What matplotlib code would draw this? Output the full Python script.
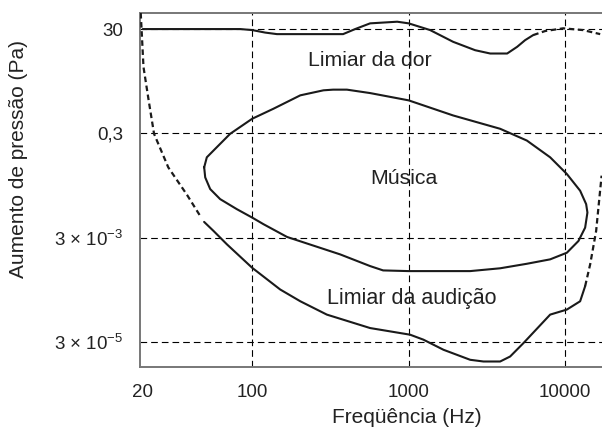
import numpy as np
import matplotlib
matplotlib.use("Agg")
import matplotlib.pyplot as plt

plt.rcParams['font.family'] = ['Liberation Sans', 'DejaVu Sans']
plt.rcParams['mathtext.fontset'] = 'custom'
plt.rcParams['mathtext.rm'] = 'Liberation Sans'
plt.rcParams['mathtext.it'] = 'Liberation Sans:italic'

# Limiar da dor (solid part, then dashed part)
dor_f = [20, 46.5, 84, 100, 121, 144, 381, 455, 567, 845, 1000, 1371, 1923, 2660, 3320, 4260, 4935, 5550, 6250]
dor_p = [30, 30, 30, 28.7, 25.7, 24, 24, 30, 38.6, 41.5, 38.6, 28.7, 17.1, 11.8, 10.2, 10.2, 13.7, 18.4, 23]
dor_f_tr = [6250, 7450, 9710, 13000, 16750]
dor_p_tr = [23, 27.5, 31, 28.7, 24]

# Música (closed contour)
mus_f = [49.35, 51.3, 58.0, 72.3, 100, 136.8, 203, 285.5, 329, 403, 567, 1000, 1923, 3843, 5692,
         8022, 10255, 12470, 13620, 13880, 13420, 12160, 10255, 8022, 5692, 3843, 2472, 1000, 687,
         567, 365, 167, 118.1, 100, 79.8, 62.4, 53.9, 50.1, 49.35]
mus_p = [0.0671, 0.1045, 0.1516, 0.2947, 0.573, 0.892, 1.61, 2.01, 2.07, 2.07, 1.78, 1.29, 0.663, 0.368, 0.219,
         0.1045, 0.0500, 0.0239, 0.01324, 0.00913, 0.00469, 0.0026, 0.00155, 0.001157, 0.000952, 0.00078,
         0.000689, 0.000689, 0.00071, 0.00086, 0.00144, 0.00311, 0.00546, 0.00731, 0.0106, 0.01652,
         0.02575, 0.0431, 0.0671]

# Limiar da audição (dashed low end, solid middle, dashed high end)
aud_f_lo = [19.4, 19.7, 20.2, 21.8, 23.6, 29.1, 38.3, 46.5]
aud_p_lo = [61, 25.1, 5.64, 1.29, 0.295, 0.067, 0.020, 0.00788]
aud_f = [49.3, 56.6, 68.9, 100, 151, 203, 300, 567, 1022, 1243, 1669, 2472, 3006, 3843, 4452, 5413, 8022, 10250, 12470, 13420]
aud_p = [0.00604, 0.00406, 0.00225, 0.000797, 0.000306, 0.000182, 0.000101, 5.58e-5, 4.16e-5, 3.34e-5, 2.14e-5,
         1.375e-5, 1.275e-5, 1.275e-5, 1.59e-5, 2.87e-5, 0.000101, 0.000126, 0.000182, 0.000354]
aud_f_hi = [13420, 14450, 15780, 16480, 17100]
aud_p_hi = [0.000354, 0.000927, 0.00406, 0.0153, 0.0465]

xticks = [20, 100, 1000, 10000]
xlabels = ['20', '100', '1000', '10000']
yticks = [3e-5, 3e-3, 0.3, 30]
ylabels = ['3 × 10$^{-5}$', '3 × 10$^{-3}$', '0,3', '30']

fig = plt.figure(figsize=(6.02, 4.3), dpi=100)
ax = fig.add_axes([0.2326, 0.1465, 0.7674, 0.8233])
ax.set_xscale('log')
ax.set_yscale('log')
ax.set_xlim(19.2, 17200)
ax.set_ylim(1e-5, 61)

# grid
for x in xticks[1:]:
    ax.axvline(x, color='black', lw=0.8, ls=(0, (6, 3.6)), zorder=1)
for y in yticks:
    ax.axhline(y, color='black', lw=0.8, ls=(0, (6, 3.6)), zorder=1)

solid = dict(color='#1a1a1a', lw=1.5, solid_capstyle='round', solid_joinstyle='round', zorder=3)
dashed = dict(color='#1a1a1a', lw=1.6, ls=(0, (2.5, 1.6)), zorder=3)

ax.plot(dor_f, dor_p, **solid)
ax.plot(dor_f_tr, dor_p_tr, **dashed)
ax.plot(mus_f, mus_p, **solid)
ax.plot(aud_f_lo, aud_p_lo, **dashed)
ax.plot(aud_f, aud_p, **solid)
ax.plot(aud_f_hi, aud_p_hi, **dashed)

ax.text(567, 7.6, 'Limiar da dor', fontsize=15.3, ha='center', va='center', color='#222222')
ax.text(929, 0.0406, 'Música', fontsize=15.3, ha='center', va='center', color='#222222')
ax.text(1052, 2.08e-4, 'Limiar da audição', fontsize=15.5, ha='center', va='center', color='#222222')

ax.set_xticks(xticks)
ax.set_xticklabels(xlabels)
ax.set_yticks(yticks)
ax.set_yticklabels(ylabels)
ax.minorticks_off()
ax.tick_params(axis='both', length=0, labelsize=13.5, colors='#222222')
ax.tick_params(axis='x', pad=12)
ax.tick_params(axis='y', pad=12)

for s in ['left', 'top', 'bottom']:
    ax.spines[s].set_color('#777777')
    ax.spines[s].set_linewidth(1.4)
ax.spines['right'].set_visible(False)

ax.set_xlabel('Freqüência (Hz)', fontsize=15, color='#222222')
ax.set_ylabel('Aumento de pressão (Pa)', fontsize=15, color='#222222')
ax.xaxis.set_label_coords(0.578, -0.115)
ax.yaxis.set_label_coords(-0.242, 0.588)

fig.savefig('out.png', dpi=100)
